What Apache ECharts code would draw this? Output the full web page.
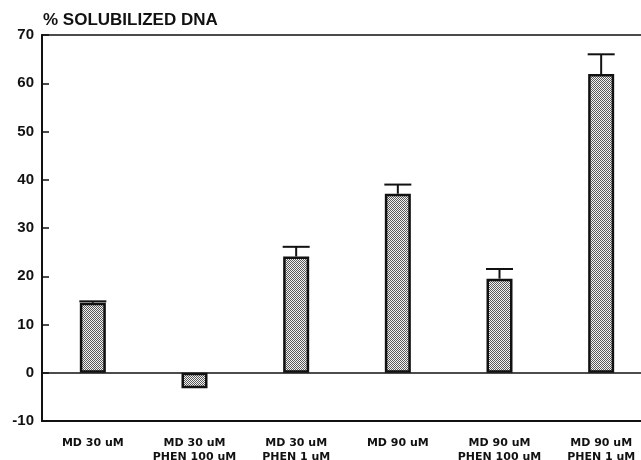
<!DOCTYPE html>
<html><head><meta charset="utf-8">
<script src="https://cdn.jsdelivr.net/npm/echarts@6/dist/echarts.min.js"></script>
<style>html,body{margin:0;padding:0;background:#fff}#c{width:641px;height:460px}</style>
</head><body><div id="c"></div>
<script>
const categories = ["MD 30 uM", "MD 30 uM\nPHEN 100 uM", "MD 30 uM\nPHEN 1 uM", "MD 90 uM", "MD 90 uM\nPHEN 100 uM", "MD 90 uM\nPHEN 1 uM"];
const values = [14.5, -3.2, 24.1, 37.1, 19.5, 61.9];
const errors = [0.3, 0, 2.0, 1.9, 2.0, 4.1];
const yTicks = [-10, 0, 10, 20, 30, 40, 50, 60, 70];
const titleText = "% SOLUBILIZED DNA";

const pc = document.createElement('canvas');
pc.width = 2; pc.height = 2;
const pctx = pc.getContext('2d');
pctx.fillStyle = '#f2f2f2'; pctx.fillRect(0,0,2,2);
pctx.fillStyle = '#5a5a5a'; pctx.fillRect(0,0,1,1); pctx.fillRect(1,1,1,1);

const chart = echarts.init(document.getElementById('c'), null, {renderer:'canvas'});
chart.setOption({
  animation: false,
  backgroundColor: '#fff',
  title: {text: titleText, left: 43, top: 12, padding: [0,0,0,0], textStyle: {fontFamily: 'Liberation Sans', fontSize: 17, fontWeight: 'bold', color: '#111'}},
  grid: {left: 42, right: -11, top: 35, bottom: 39, containLabel: false, outerBoundsMode: 'none', show: true, borderColor: '#111', borderWidth: 1.5, backgroundColor: 'transparent'},
  xAxis: {
    type: 'category', data: categories, position: 'bottom',
    axisLine: {onZero: false, lineStyle: {color: '#111', width: 2}},
    axisTick: {inside: true, length: 7, alignWithLabel: true, lineStyle: {color: '#111', width: 1.5}},
    axisLabel: {margin: 15, interval: 0, hideOverlap: false, fontFamily: 'DejaVu Sans', fontWeight: 'bold', fontSize: 11, lineHeight: 14, color: '#111'}
  },
  yAxis: {
    type: 'value', min: yTicks[0], max: yTicks[yTicks.length-1], interval: 10,
    axisLine: {show: true, lineStyle: {color: '#111', width: 2}},
    axisTick: {show: true, inside: true, length: 7, lineStyle: {color: '#111', width: 1.5}},
    splitLine: {show: false},
    axisLabel: {margin: 8, fontFamily: 'Liberation Sans', fontWeight: 'bold', fontSize: 15, color: '#111'}
  },
  series: [
    {
      type: 'bar', data: values, barWidth: 26,
      itemStyle: {color: {image: pc, repeat: 'repeat'}, borderColor: '#111', borderWidth: 2.5},
      markLine: {silent: true, symbol: 'none', label: {show: false}, lineStyle: {color: '#111', width: 1.5, type: 'solid'}, data: [{yAxis: 0}]},
      z: 2
    },
    {
      type: 'custom', z: 3,
      data: values.map((v, i) => [i, v, v + errors[i], errors[i]]),
      renderItem: function (params, api) {
        if (api.value(3) <= 0) return null;
        const base = api.coord([api.value(0), api.value(1)]);
        const top = api.coord([api.value(0), api.value(2)]);
        const hw = 13.5;
        return {type: 'group', children: [
          {type: 'line', shape: {x1: base[0], y1: base[1], x2: top[0], y2: top[1]}, style: {stroke: '#111', lineWidth: 2}},
          {type: 'line', shape: {x1: top[0]-hw, y1: top[1], x2: top[0]+hw, y2: top[1]}, style: {stroke: '#111', lineWidth: 2}}
        ]};
      }
    }
  ]
});
</script></body></html>
